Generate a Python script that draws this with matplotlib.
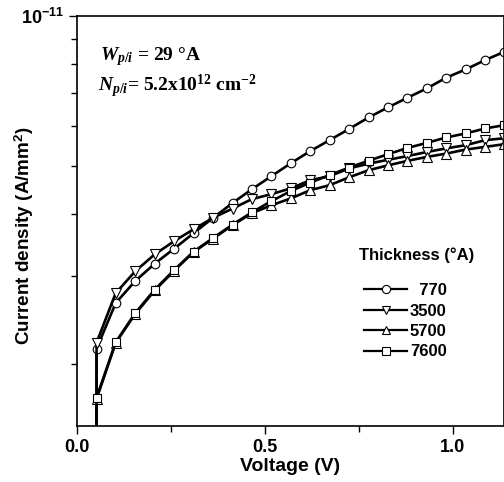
import matplotlib
matplotlib.use("Agg")
import matplotlib.pyplot as plt
from matplotlib.ticker import LogLocator, NullFormatter, FixedLocator, FixedFormatter

plt.rcParams['font.family'] = ['Liberation Sans', 'DejaVu Sans']
plt.rcParams['font.weight'] = 'bold'
plt.rcParams['mathtext.fontset'] = 'custom'
plt.rcParams['mathtext.rm'] = 'Liberation Serif:bold'
plt.rcParams['mathtext.it'] = 'Liberation Serif:italic:bold'
plt.rcParams['mathtext.bf'] = 'Liberation Serif:bold'
plt.rcParams['mathtext.sf'] = 'Liberation Sans:bold'

# voltage (V); first point repeated: current drops below the axis there
voltage = [0.052, 0.052, 0.103, 0.155, 0.207, 0.259, 0.310, 0.362, 0.414, 0.465, 0.517, 0.569,
           0.620, 0.672, 0.724, 0.776, 0.827, 0.879, 0.931, 0.982, 1.034, 1.086, 1.137]

# current density (A/mm^2) for each thickness
j_770 = [1e-13, 2.145e-12, 2.65e-12, 2.935e-12, 3.18e-12, 3.41e-12, 3.66e-12, 3.93e-12, 4.21e-12,
         4.485e-12, 4.765e-12, 5.06e-12, 5.35e-12, 5.63e-12, 5.93e-12, 6.255e-12, 6.55e-12,
         6.85e-12, 7.155e-12, 7.515e-12, 7.81e-12, 8.155e-12, 8.475e-12]
j_3500 = [1e-13, 2.205e-12, 2.775e-12, 3.07e-12, 3.32e-12, 3.53e-12, 3.727e-12, 3.93e-12, 4.103e-12,
          4.285e-12, 4.385e-12, 4.505e-12, 4.677e-12, 4.765e-12, 4.94e-12, 5.05e-12, 5.14e-12,
          5.23e-12, 5.33e-12, 5.42e-12, 5.50e-12, 5.63e-12, 5.68e-12]
j_5700 = [1e-13, 1.70e-12, 2.205e-12, 2.52e-12, 2.81e-12, 3.08e-12, 3.355e-12, 3.57e-12, 3.80e-12,
          4.015e-12, 4.165e-12, 4.30e-12, 4.465e-12, 4.571e-12, 4.742e-12, 4.90e-12, 5.01e-12,
          5.115e-12, 5.21e-12, 5.29e-12, 5.39e-12, 5.458e-12, 5.526e-12]
j_7600 = [1e-13, 1.71e-12, 2.21e-12, 2.53e-12, 2.82e-12, 3.09e-12, 3.36e-12, 3.58e-12, 3.81e-12,
          4.03e-12, 4.245e-12, 4.45e-12, 4.624e-12, 4.79e-12, 4.96e-12, 5.12e-12, 5.275e-12,
          5.43e-12, 5.56e-12, 5.70e-12, 5.808e-12, 5.943e-12, 6.035e-12]

labels = ['  770', '3500', '5700', '7600']
markers = ['o', 'v', '^', 's']
sizes = [6.2, 6.6, 6.6, 5.4]

fig = plt.figure(figsize=(5.04, 4.82), dpi=100)
ax = fig.add_axes([77 / 504, 56 / 482, 1 - 77 / 504, 410 / 482])

for y, lab, m, ms in zip([j_770, j_3500, j_5700, j_7600], labels, markers, sizes):
    ax.plot(voltage, y, color='black', lw=1.9, marker=m, ms=ms, mfc='white',
            mec='black', mew=0.8, label=lab)

ax.set_yscale('log')
ax.set_xlim(0, 1.136)
ax.set_ylim(1.5e-12, 1e-11)

ax.xaxis.set_major_locator(FixedLocator([0.0, 0.5, 1.0]))
ax.xaxis.set_major_formatter(FixedFormatter(['0.0', '0.5', '1.0']))
ax.xaxis.set_minor_locator(FixedLocator([0.25, 0.75]))
ax.yaxis.set_major_locator(FixedLocator([1e-11]))
ax.yaxis.set_major_formatter(FixedFormatter([r'$\mathsf{10^{-11}}$']))
ax.yaxis.set_minor_locator(LogLocator(base=10, subs=range(2, 10)))
ax.yaxis.set_minor_formatter(NullFormatter())

ax.tick_params(which='both', direction='out', width=1.0, labelsize=13)
ax.tick_params(which='major', length=6)
ax.tick_params(which='minor', length=4)
for s in ax.spines.values():
    s.set_linewidth(1.2)

ax.set_xlabel('Voltage (V)', fontsize=14, fontweight='bold', labelpad=1)
fig.text(24 / 504, 1 - 236 / 482, 'Current density (A/mm$^\\mathsf{2}$)', rotation=90,
         ha='center', va='center', fontsize=13.6, fontweight='bold')

ax.text(0.055, 0.893, r'$W_{p/i}$ = 29 °A', transform=ax.transAxes, family='Liberation Serif',
        fontsize=14, fontweight='bold')
ax.text(0.05, 0.815, r'$N_{p/i}$= 5.2x10$^{12}$ cm$^{-2}$', transform=ax.transAxes,
        family='Liberation Serif', fontsize=14, fontweight='bold')

fig.text(359 / 504, 1 - 255 / 482, 'Thickness (°A)', ha='left', va='center',
         fontsize=12, fontweight='bold')
leg = ax.legend(loc='upper left', bbox_to_anchor=(364 / 504, 1 - 283 / 482),
                bbox_transform=fig.transFigure, frameon=False, fontsize=12, markerscale=0.95,
                handlelength=2.6, handletextpad=0.15, labelspacing=0.33, borderpad=0, borderaxespad=0)
for t in leg.get_texts():
    t.set_fontweight('bold')
for h in leg.legend_handles:
    h.set_linewidth(1.6)

fig.savefig('out.png', dpi=100)
